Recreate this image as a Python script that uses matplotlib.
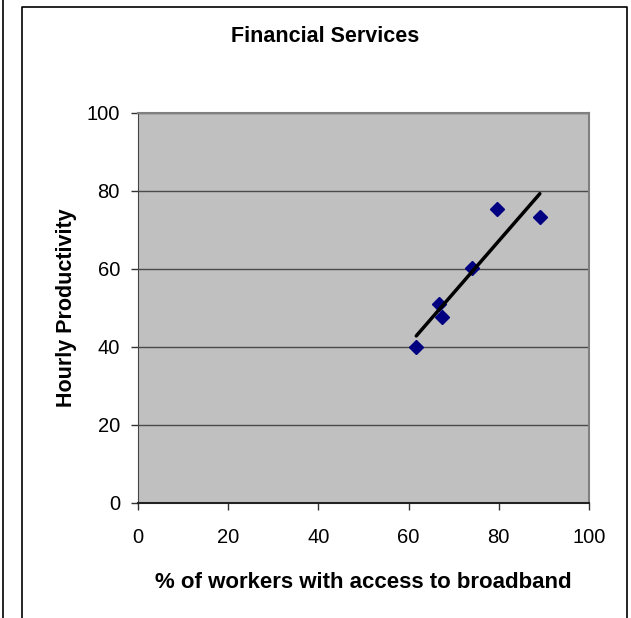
import numpy as np
import matplotlib
matplotlib.use("Agg")
import matplotlib.pyplot as plt
from matplotlib.lines import Line2D

plt.rcParams['font.family'] = ['Liberation Sans', 'DejaVu Sans']

# data
broadband_pct = [61.7, 66.7, 67.3, 74.1, 79.7, 89.1]
hourly_productivity = [40.1, 51.0, 47.8, 60.3, 75.5, 73.4]
ticks = [0, 20, 40, 60, 80, 100]

W, H = 631, 618
fig = plt.figure(figsize=(W / 100, H / 100), dpi=100)
ax = fig.add_axes([138 / W, 1 - 503 / H, 451 / W, 390 / H])

ax.set_facecolor('#C0C0C0')
ax.grid(axis='y', color='#4a4a4a', linewidth=1.0)
ax.set_axisbelow(True)

ax.plot(broadband_pct, hourly_productivity, linestyle='none', marker='D',
        markersize=7, color='#000080', zorder=3)

# linear trendline
k, b = np.polyfit(broadband_pct, hourly_productivity, 1)
xs = np.array([min(broadband_pct), max(broadband_pct)])
ax.plot(xs, k * xs + b, color='black', linewidth=2.5, zorder=4,
        solid_capstyle='round')

ax.set_xlim(0, 100)
ax.set_ylim(0, 100)
ax.set_xticks(ticks)
ax.set_yticks(ticks)
ax.tick_params(labelsize=14.5, length=5, width=1, color='#333333')
ax.tick_params(axis='x', pad=13)
ax.tick_params(axis='y', pad=8)

ax.spines['top'].set_color('#808080')
ax.spines['right'].set_color('#808080')
ax.spines['top'].set_linewidth(1.5)
ax.spines['right'].set_linewidth(1.5)
ax.spines['left'].set_color('#444444')
ax.spines['bottom'].set_color('#222222')
ax.spines['bottom'].set_linewidth(1.5)

ax.set_xlabel('% of workers with access to broadband', fontsize=16,
              fontweight='bold', labelpad=18)
ax.set_ylabel('Hourly Productivity', fontsize=15.5, fontweight='bold',
              labelpad=7)
fig.text(325 / W, 1 - 37 / H, 'Financial Services', fontsize=15.5,
         fontweight='bold', ha='center', va='center')

# chart frame and the edge of the neighbouring chart
fig.add_artist(Line2D([2.5 / W, 2.5 / W], [0, 1], color='black', linewidth=1.2))
fig.add_artist(Line2D([21.5 / W, 21.5 / W, 627 / W, 627 / W],
                      [0, 1 - 6.5 / H, 1 - 6.5 / H, 0],
                      color='black', linewidth=1.2))

fig.savefig('out.png', dpi=100)
